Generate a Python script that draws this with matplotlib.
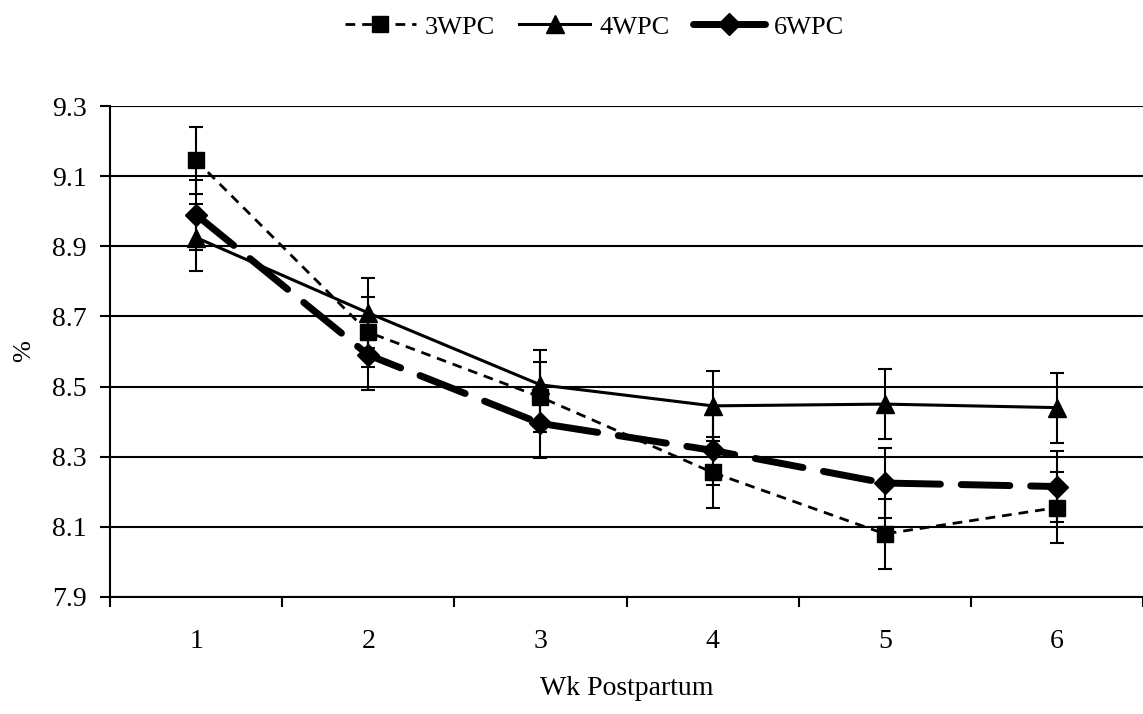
import matplotlib
matplotlib.use("Agg")
import matplotlib.pyplot as plt
from matplotlib.lines import Line2D
import numpy as np

plt.rcParams['font.family'] = ['Liberation Serif', 'DejaVu Serif']

weeks = ["1", "2", "3", "4", "5", "6"]
wpc3 = [9.145, 8.655, 8.47, 8.255, 8.08, 8.155]
wpc4 = [8.925, 8.71, 8.505, 8.445, 8.45, 8.44]
wpc6 = [8.99, 8.59, 8.395, 8.318, 8.225, 8.215]
se3 = [0.095, 0.1, 0.1, 0.1, 0.1, 0.1]
se4 = [0.095, 0.1, 0.1, 0.1, 0.1, 0.1]
se6 = [0.1, 0.1, 0.1, 0.1, 0.1, 0.1]
y_ticks = [7.9, 8.1, 8.3, 8.5, 8.7, 8.9, 9.1, 9.3]

fig = plt.figure(figsize=(11.43, 7.14), dpi=100)
ax = fig.add_axes([110 / 1143, 1 - 597 / 714, 1 - 110 / 1143, (597 - 106) / 714])

x = np.arange(len(weeks))

err_kw = dict(fmt='none', ecolor='black', elinewidth=1.5, capsize=5, capthick=1.5, zorder=3)
ax.errorbar(x, wpc3, yerr=se3, **err_kw)
ax.errorbar(x, wpc4, yerr=se4, **err_kw)
ax.errorbar(x, wpc6, yerr=se6, **err_kw)

style3 = dict(color='black', lw=2.0, linestyle=(0, (3.5, 2.5)), marker='s', markersize=12)
style4 = dict(color='black', lw=2.2, linestyle='-', marker='^', markersize=13)
style6 = dict(color='black', lw=5.0, linestyle=(0, (7, 3)), marker='D', markersize=11,
              dash_capstyle='round')

ax.plot(x, wpc3, zorder=4, **style3)
ax.plot(x, wpc4, zorder=4, **style4)
ax.plot(x, wpc6, zorder=4, **style6)

ax.set_xlim(-0.5, len(weeks) - 0.5)
ax.set_ylim(7.9, 9.3)
ax.set_yticks(y_ticks)
ax.set_yticklabels([f"{v:.1f}" for v in y_ticks])
ax.set_xticks(x)
ax.set_xticklabels(weeks)
ax.set_xticks(np.arange(-0.5, len(weeks) + 0.5, 1), minor=True)
ax.tick_params(axis='x', which='major', length=0, pad=23, labelsize=20)
ax.tick_params(axis='x', which='minor', length=7, width=1.5, direction='out')
ax.tick_params(axis='y', length=7, width=1.5, direction='out', pad=10, labelsize=20)

ax.yaxis.grid(True, color='black', lw=1.5)
ax.set_axisbelow(True)
for s in ['top', 'right']:
    ax.spines[s].set_visible(False)
for s in ['left', 'bottom']:
    ax.spines[s].set_linewidth(1.5)

ax.set_xlabel('Wk Postpartum', fontsize=20, labelpad=16)
ax.set_ylabel('%', fontsize=19, labelpad=12)

# legend handles: the thick series shows as a solid stroke in the key
handles = [
    Line2D([], [], **style3),
    Line2D([], [], **style4),
    Line2D([], [], **{**style6, 'linestyle': '-', 'solid_capstyle': 'round'}),
]
fig.legend(handles, ['3WPC', '4WPC', '6WPC'], loc='upper center',
           bbox_to_anchor=(0.52, 1.012), ncol=3, frameon=False,
           fontsize=19, handlelength=2.7, columnspacing=0.9, handletextpad=0.35)

fig.savefig('out.png', dpi=100)
